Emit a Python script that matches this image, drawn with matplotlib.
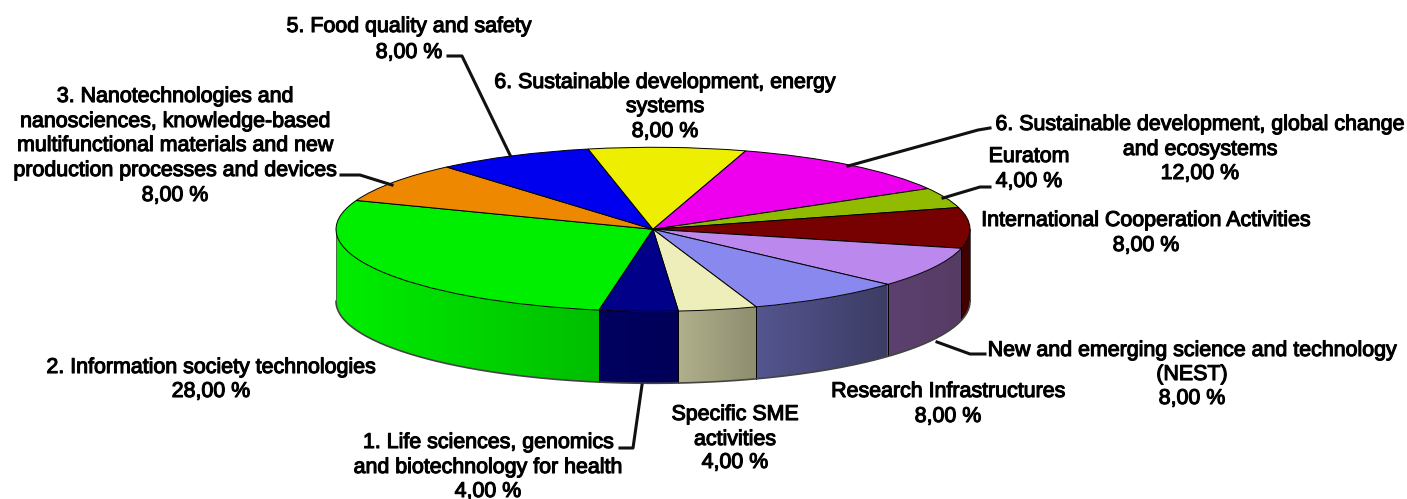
import numpy as np
import matplotlib
matplotlib.use("Agg")
import matplotlib.pyplot as plt
import matplotlib.patheffects as pe
from matplotlib.colors import LinearSegmentedColormap
from matplotlib.patches import Polygon

names = [["2. Information society technologies"],
         ["3. Nanotechnologies and", "nanosciences, knowledge-based",
          "multifunctional materials and new", "production processes and devices"],
         ["5. Food quality and safety"],
         ["6. Sustainable development, energy", "systems"],
         ["6. Sustainable development, global change", "and ecosystems"],
         ["Euratom"],
         ["International Cooperation Activities"],
         ["New and emerging science and technology", "(NEST)"],
         ["Research Infrastructures"],
         ["Specific SME", "activities"],
         ["1. Life sciences, genomics", "and biotechnology for health"]]
values = [28, 8, 8, 8, 12, 4, 8, 8, 8, 4, 4]
top_colors = ["#00EE00", "#EE8800", "#0000EE", "#EEEE00", "#EE00EE", "#90BB00",
              "#770000", "#BB88EE", "#8888EE", "#EEEEBB", "#000088"]
wall_left = ["#00EE00", "#EE8800", "#0000EE", "#EEEE00", "#EE00EE", "#90BB00",
             "#400000", "#5C4070", "#555590", "#B0B08C", "#000060"]
wall_right = ["#00BE00", "#EE8800", "#0000EE", "#EEEE00", "#EE00EE", "#90BB00",
              "#400000", "#563C64", "#3C3C64", "#8E8E70", "#000058"]
label_x = [211, 175, 409, 665, 1200, 1029, 1146, 1192, 948, 735, 488]
label_base = [[373, 397], [102, 127, 151, 176, 201], [32, 58], [88, 112, 137], [130, 155, 179],
              [162, 187], [226, 251], [356, 380, 404], [397, 422], [420, 445, 468], [448, 473, 497]]
leaders = {1: [(341, 175), (360, 175), (392, 185)],
           2: [(448, 56), (462, 56), (510, 155)],
           4: [(990, 128), (978, 130), (848, 166)],
           5: [(990, 187), (980, 187), (943, 198)],
           7: [(985, 354), (970, 354), (937, 342)],
           10: [(620, 448), (633, 448), (642, 385)]}

W, H = 1407, 499
CX, CY, RX, RY, DEPTH = 653, 229.3, 317, 82, 72
START = -99.8

fig = plt.figure(figsize=(W / 100, H / 100), dpi=100, facecolor="white")

# full-figure axes in pixel coordinates for the pie side walls
base = fig.add_axes([0, 0, 1, 1], facecolor="none")
base.set_xlim(0, W)
base.set_ylim(H, 0)
base.axis("off")

angle = START
for v, c1, c2 in zip(values, wall_left, wall_right):
    a1, a0 = angle, angle - v * 3.6
    angle = a0
    for shift in (0, 360, -360):
        lo = max(a0 + shift, -180)
        hi = min(a1 + shift, 0)
        if lo >= hi:
            continue
        t = np.radians(np.linspace(lo, hi, 120))
        xs = CX + RX * np.cos(t)
        ys = CY - RY * np.sin(t)
        verts = np.column_stack([np.r_[xs, xs[::-1]], np.r_[ys, ys[::-1] + DEPTH]])
        poly = Polygon(verts, closed=True, transform=base.transData, fc="none", ec="none")
        base.add_patch(poly)
        cmap = LinearSegmentedColormap.from_list("w", [c1, c2])
        im = base.imshow(np.linspace(0, 1, 128)[None, :], cmap=cmap, aspect="auto",
                         extent=(xs.min(), xs.max(), ys.max() + DEPTH, ys.min()),
                         interpolation="bilinear", zorder=1)
        im.set_clip_path(poly)
        for tt in (lo, hi):
            if -180 < tt < 0:
                r = np.radians(tt)
                x = CX + RX * np.cos(r)
                y = CY - RY * np.sin(r)
                base.plot([x, x], [y, y + DEPTH], color="black", lw=0.6, zorder=2)
base.set_xlim(0, W)
base.set_ylim(H, 0)

tb = np.radians(np.linspace(-180, 0, 300))
base.plot(CX + RX * np.cos(tb), CY - RY * np.sin(tb) + DEPTH, color="#444444", lw=1.2, zorder=3)
base.plot([CX - RX] * 2, [CY, CY + DEPTH], color="#555555", lw=0.6, zorder=3)
base.plot([CX + RX] * 2, [CY, CY + DEPTH], color="#333333", lw=0.6, zorder=3)

# pie top, elliptical because the axes box is elliptical
ax = fig.add_axes([(CX - RX) / W, (H - CY - RY) / H, 2 * RX / W, 2 * RY / H], facecolor="none")
wedges, _ = ax.pie(values, colors=top_colors, startangle=START, counterclock=False,
                   radius=1, center=(0, 0), frame=False,
                   wedgeprops=dict(edgecolor="black", linewidth=0.7))
ax.set_aspect("auto")
ax.set_xlim(-1, 1)
ax.set_ylim(-1, 1)
ax.axis("off")
for w in wedges:
    w.set_clip_on(False)

ov = fig.add_axes([0, 0, 1, 1], facecolor="none")
ov.set_xlim(0, W)
ov.set_ylim(H, 0)
ov.axis("off")

for idx, pts in leaders.items():
    xs, ys = zip(*pts)
    ov.plot(xs, ys, color="#111111", lw=2.2, solid_joinstyle="round")

for lines, val, x, ybs in zip(names, values, label_x, label_base):
    pct = f"{val:.2f}".replace(".", ",") + " %"
    for line, yb in zip(lines + [pct], ybs):
        ov.text(x, yb, line, ha="center", va="baseline", family="Liberation Sans",
                fontsize=15.4, color="black", clip_on=False,
                path_effects=[pe.withStroke(linewidth=0.8, foreground="black")])

fig.savefig("out.png", dpi=100)
